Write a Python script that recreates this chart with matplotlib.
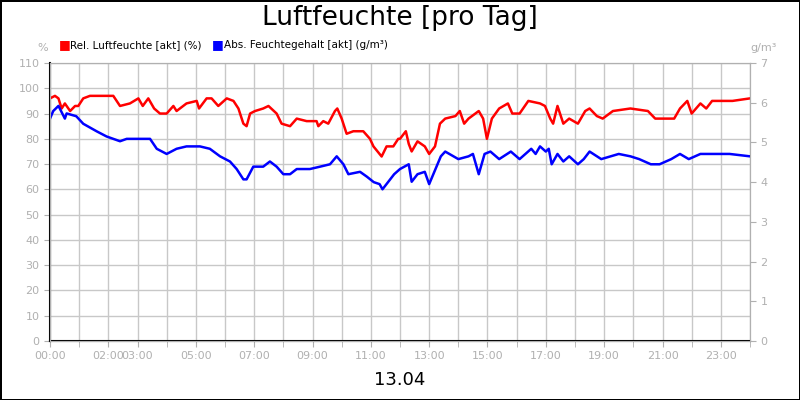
import numpy as np
import matplotlib
matplotlib.use("Agg")
import matplotlib.pyplot as plt

# Rel. Luftfeuchte (%), time in hours
rel_t = [0, 0.17, 0.29, 0.4, 0.51, 0.69, 0.86, 0.97, 1.14, 1.37, 2.17, 2.4, 2.74, 3.03, 3.18, 3.37,
         3.57, 3.77, 4.0, 4.23, 4.34, 4.68, 5.03, 5.11, 5.37, 5.54, 5.77, 6.06, 6.29, 6.46, 6.63,
         6.74, 6.86, 7.03, 7.31, 7.49, 7.77, 7.94, 8.23, 8.46, 8.8, 9.14, 9.2, 9.37, 9.54, 9.77,
         9.85, 10.0, 10.17, 10.4, 10.74, 10.97, 11.09, 11.37, 11.54, 11.77, 11.94, 12.0, 12.2,
         12.3, 12.4, 12.6, 12.85, 13.0, 13.2, 13.37, 13.55, 13.9, 14.05, 14.2, 14.35, 14.7,
         14.85, 14.98, 15.15, 15.4, 15.7, 15.85, 16.1, 16.4, 16.8, 16.97, 17.15, 17.25, 17.4,
         17.6, 17.8, 18.1, 18.35, 18.5, 18.75, 18.95, 19.3, 19.9, 20.5, 20.75, 21.4, 21.6,
         21.85, 22.0, 22.3, 22.5, 22.7, 23.4, 24.0]
rel_v = [96, 97, 96, 92, 94, 91, 93, 93, 96, 97, 97, 93, 94, 96, 93, 96,
         92, 90, 90, 93, 91, 94, 95, 92, 96, 96, 93, 96, 95, 92, 86,
         85, 90, 91, 92, 93, 90, 86, 85, 88, 87, 87, 85, 87, 86, 91,
         92, 88, 82, 83, 83, 80, 77, 73, 77, 77, 80, 80, 83,
         78, 75, 79, 77, 74, 77, 86, 88, 89, 91, 86, 88, 91,
         88, 80, 88, 92, 94, 90, 90, 95, 94, 93, 88, 86, 93,
         86, 88, 86, 91, 92, 89, 88, 91, 92, 91, 88, 88, 92,
         95, 90, 94, 92, 95, 95, 96]

# Abs. Feuchtegehalt (g/m3)
abs_t = [0, 0.11, 0.29, 0.51, 0.57, 0.9, 1.14, 1.6, 1.94, 2.4, 2.63, 2.97, 3.43, 3.66, 4.0, 4.34,
         4.68, 5.14, 5.48, 5.83, 6.17, 6.4, 6.63, 6.74, 6.97, 7.31, 7.54, 7.77, 8.0, 8.23, 8.46,
         8.91, 9.26, 9.6, 9.83, 10.06, 10.23, 10.63, 10.86, 11.1, 11.3, 11.4, 11.8, 12.0, 12.3,
         12.4, 12.6, 12.85, 13.0, 13.4, 13.55, 14.0, 14.35, 14.5, 14.7, 14.9, 15.1, 15.4, 15.8,
         16.1, 16.5, 16.65, 16.8, 17.0, 17.1, 17.2, 17.4, 17.6, 17.8, 18.1, 18.3, 18.5, 18.9,
         19.5, 19.9, 20.2, 20.6, 20.9, 21.3, 21.6, 21.9, 22.3, 23.0, 23.3, 24.0]
abs_v = [5.6, 5.79, 5.92, 5.6, 5.73, 5.66, 5.47, 5.28, 5.15, 5.03, 5.09, 5.09, 5.09, 4.84, 4.71, 4.84,
         4.9, 4.9, 4.84, 4.65, 4.52, 4.33, 4.07, 4.07, 4.39, 4.39, 4.52, 4.39, 4.2, 4.2, 4.33,
         4.33, 4.39, 4.45, 4.65, 4.45, 4.2, 4.26, 4.14, 4.0, 3.95, 3.82, 4.2, 4.33, 4.45,
         4.01, 4.2, 4.26, 3.95, 4.65, 4.77, 4.58, 4.65, 4.71, 4.2, 4.71, 4.77, 4.58, 4.77,
         4.58, 4.84, 4.71, 4.9, 4.77, 4.84, 4.45, 4.71, 4.52, 4.65, 4.45, 4.58, 4.77, 4.58,
         4.71, 4.65, 4.58, 4.45, 4.45, 4.58, 4.71, 4.58, 4.71, 4.71, 4.71, 4.65]

tick_hours = [0, 2, 3, 5, 7, 9, 11, 13, 15, 17, 19, 21, 23]
tick_labels = ["%02d:00" % h for h in tick_hours]

grey = "#b0b0b0"
gridc = "#c8c8c8"
fig = plt.figure(figsize=(8, 4), dpi=100)
fig.patch.set_edgecolor("black")
fig.patch.set_linewidth(2)
ax = fig.add_axes([0.0625, 0.1475, 0.875, 0.695])
ax2 = ax.twinx()

ax.plot(rel_t, rel_v, color="#ff0000", lw=1.8)
ax2.plot(abs_t, abs_v, color="#0000ff", lw=1.8)

ax.set_xlim(0, 24)
ax.set_ylim(0, 110)
ax2.set_ylim(0, 7)
ax.set_yticks(range(0, 111, 10))
ax2.set_yticks(range(0, 8))
ax.set_xticks(range(0, 25), minor=True)
ax.set_xticks(tick_hours)
ax.set_xticklabels(tick_labels)
ax.grid(True, which="both", axis="x", color=gridc, lw=1)
ax.grid(True, axis="y", color=gridc, lw=1)
ax.set_axisbelow(True)

for a in (ax, ax2):
    a.tick_params(colors=grey, labelsize=8, length=4, which="both")
    for s in a.spines.values():
        s.set_color(grey)
ax.spines["left"].set_color("black")
ax.spines["bottom"].set_color("black")
ax.spines["left"].set_linewidth(1.5)
ax.spines["bottom"].set_linewidth(1.5)

fig.text(0.5, 0.955, "Luftfeuchte [pro Tag]", ha="center", va="center", fontsize=19)
fig.text(0.5, 0.05, "13.04", ha="center", va="center", fontsize=13)
fig.text(0.053, 0.88, "%", ha="center", va="center", fontsize=8, color=grey)
fig.text(0.955, 0.88, "g/m³", ha="center", va="center", fontsize=8, color=grey)

fig.text(0.073, 0.888, "■", color="#ff0000", ha="left", va="center", fontsize=9)
fig.text(0.088, 0.888, "Rel. Luftfeuchte [akt] (%)", ha="left", va="center", fontsize=7.5)
fig.text(0.265, 0.888, "■", color="#0000ff", ha="left", va="center", fontsize=9)
fig.text(0.28, 0.888, "Abs. Feuchtegehalt [akt] (g/m³)", ha="left", va="center", fontsize=7.5)

fig.savefig("out.png", dpi=100, edgecolor=fig.get_edgecolor())
